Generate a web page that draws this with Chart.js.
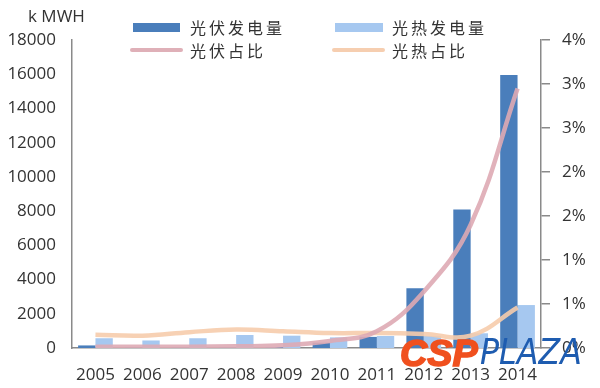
<!DOCTYPE html>
<html>
<head>
<meta charset="utf-8">
<script src="https://cdn.jsdelivr.net/npm/chart.js@4.4.0/dist/chart.umd.min.js"></script>
<style>
  html, body { margin: 0; padding: 0; background: #fff; }
  #wrap { position: relative; width: 600px; height: 388px; overflow: hidden; }
  #c { position: absolute; left: 0; top: 0; }
  .unit { position: absolute; left: 28px; top: 4px; font: 17px "Open Sans", sans-serif; color: #333; }
  .lg { position: absolute; font: 16px "Noto Sans CJK SC", sans-serif; color: #333; letter-spacing: 3px; line-height: 18px; }
  .sw { position: absolute; }
  .wm1 { position: absolute; left: 400px; top: 333px; font: italic 900 36px "Liberation Sans", sans-serif; color: #f0501e;
         transform: scaleX(1.05); transform-origin: left top; -webkit-text-stroke: 1.5px #f0501e; }
  .wm2 { position: absolute; left: 480px; top: 331px; font: italic 200 36px "DejaVu Sans", sans-serif; color: #1e5cb0;
         letter-spacing: 0px; transform: scaleX(0.88); transform-origin: left top; }
</style>
</head>
<body>
<div id="wrap">
  <canvas id="c" width="600" height="388"></canvas>
  <div class="unit">k MWH</div>

  <div class="sw" style="left:133px;top:23px;width:47px;height:9px;background:#4a7ebb"></div>
  <div class="lg" style="left:190px;top:18px">光伏发电量</div>
  <div class="sw" style="left:335px;top:23px;width:48px;height:9px;background:#a6c8f0"></div>
  <div class="lg" style="left:392px;top:18px">光热发电量</div>

  <div class="sw" style="left:130px;top:48px;width:53px;height:4px;border-radius:2px;background:#dfb0b8"></div>
  <div class="lg" style="left:190px;top:41px">光伏占比</div>
  <div class="sw" style="left:332px;top:48px;width:53px;height:4px;border-radius:2px;background:#f6ceb0"></div>
  <div class="lg" style="left:392px;top:41px">光热占比</div>

  <div class="wm1">CSP</div>
  <div class="wm2">PLAZA</div>
</div>
<script>
// data
const years = ['2005', '2006', '2007', '2008', '2009', '2010', '2011', '2012', '2013', '2014'];
const pvGen = [150, 30, 30, 40, 60, 310, 650, 3490, 8100, 15950];      // 光伏发电量, k MWH
const cspGen = [570, 440, 570, 760, 720, 620, 700, 700, 860, 2510];    // 光热发电量, k MWH
const pvShare = [0.015, 0.015, 0.015, 0.02, 0.03, 0.08, 0.19, 0.64, 1.4, 2.95];   // 光伏占比, %
const cspShare = [0.15, 0.14, 0.18, 0.21, 0.19, 0.17, 0.17, 0.16, 0.14, 0.46];    // 光热占比, %

const tickFont = { family: 'Open Sans', size: 17 };
const axisGray = '#8a8a8a';

new Chart(document.getElementById('c'), {
  type: 'bar',
  data: {
    labels: years,
    datasets: [
      { type: 'line', label: '光伏占比', data: pvShare, yAxisID: 'y2', order: 0,
        borderColor: 'rgba(222,170,180,0.9)', borderWidth: 4.5, pointRadius: 0, tension: 0.4 },
      { type: 'line', label: '光热占比', data: cspShare, yAxisID: 'y2', order: 0,
        borderColor: 'rgba(246,204,172,0.9)', borderWidth: 4.5, pointRadius: 0, tension: 0.4 },
      { label: '光伏发电量', data: pvGen, yAxisID: 'y', order: 1,
        backgroundColor: '#4a7ebb', categoryPercentage: 0.74, barPercentage: 1 },
      { label: '光热发电量', data: cspGen, yAxisID: 'y', order: 1,
        backgroundColor: '#a6c8f0', categoryPercentage: 0.74, barPercentage: 1 },
    ],
  },
  options: {
    responsive: false,
    animation: false,
    layout: { padding: { top: 40, left: 0, right: 0, bottom: 0 } },
    plugins: { legend: { display: false }, tooltip: { enabled: false } },
    scales: {
      x: {
        grid: { display: false },
        border: { display: true, color: axisGray, width: 1.5 },
        ticks: { font: tickFont, color: '#333', padding: 9, maxRotation: 0, autoSkip: false },
        afterFit: s => { s.height = 40; },
      },
      y: {
        position: 'left',
        min: 0, max: 18000,
        grid: { display: false },
        border: { display: true, color: axisGray, width: 1.5 },
        ticks: { stepSize: 2000, font: tickFont, color: '#333', padding: 8, callback: v => String(v) },
        afterFit: s => { s.width = 72; },
      },
      y2: {
        position: 'right',
        min: 0, max: 3.5,
        grid: { drawOnChartArea: false, drawTicks: true, tickLength: 9, color: axisGray, lineWidth: 1.5 },
        border: { display: true, color: axisGray, width: 1.5 },
        ticks: {
          stepSize: 0.5, font: tickFont, color: '#333', padding: 12,
          callback: v => Math.round(Math.round(v * 100) / 100) + '%',
        },
        afterFit: s => { s.width = 59; },
      },
    },
  },
});
</script>
</body>
</html>
